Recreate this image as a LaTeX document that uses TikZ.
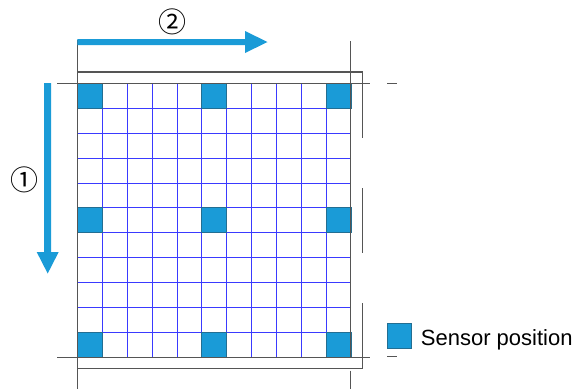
\documentclass[tikz,border=0pt]{standalone}
\usepackage{fontspec}
\setmainfont{Liberation Sans}
\newfontfamily\cjkfont{Noto Sans CJK JP}
\definecolor{sensor}{HTML}{1A9BD7}
\definecolor{sensorborder}{HTML}{236E92}
\definecolor{gridblue}{HTML}{3A3AFF}
\definecolor{guide}{HTML}{555555}
\begin{document}
\begin{tikzpicture}[x=1pt,y=-1pt,
  guideline/.style={draw=guide,line width=1.1pt},
  gridline/.style={draw=gridblue,line width=0.9pt},
  sensorbox/.style={fill=sensor,draw=sensorborder,line width=0.8pt},
  bigarrow/.style={fill=sensor},
  circnum/.style={font=\cjkfont\fontsize{28}{28}\selectfont, inner sep=0pt}]
\useasboundingbox (0,0) rectangle (577,389);
\def\cs{24.87}
% grid interior lines
\foreach \i in {1,...,10} {
  \draw[gridline] (77.5+\i*\cs,83.5) -- (77.5+\i*\cs,357.1);
  \draw[gridline] (77.5,83.5+\i*\cs) -- (351.1,83.5+\i*\cs);
}
% sensors
\foreach \c in {0,5,10} {
  \foreach \r in {0,5,10} {
    \draw[sensorbox] (77.5+\c*\cs,83.5+\r*\cs) rectangle ++(\cs,\cs);
  }
}
% guide lines
\draw[guideline] (77.3,40) -- (77.3,389);
\draw[guideline] (350.8,41) -- (350.8,357.3);
\draw[guideline] (350.8,370.5) -- (350.8,389);
\draw[guideline] (57,83.4) -- (370,83.4);
\draw[guideline] (387,83.4) -- (397,83.4);
\draw[guideline] (57,357.2) -- (370,357.2);
\draw[guideline] (387,356.8) -- (397,356.8);
\draw[guideline] (77.3,72) -- (362.7,72) -- (362.7,138);
\draw[guideline] (362.7,188) -- (362.7,253);
\draw[guideline] (362.7,303) -- (362.7,368.3) -- (77.3,368.3);
% arrows
\fill[bigarrow] (77.3,39) -- (245,39) -- (245,31) -- (267.5,42) -- (245,53) -- (245,45) -- (77.3,45) -- cycle;
\fill[bigarrow] (44.2,83) -- (51.2,83) -- (51.2,252) -- (58.7,252) -- (47.7,273.5) -- (36.7,252) -- (44.2,252) -- cycle;
% labels
\node[circnum] (n2) at (172,21.5) {②};
\node[circnum] (n1) at (24,180) {①};
% legend
\node[sensorbox, minimum width=24pt, minimum height=25pt, inner sep=0pt] (leg) at (399.5,335.5) {};
\node[anchor=base west, font=\fontsize{22}{22}\selectfont, inner sep=0pt] (legtext) at (420.7,345) {Sensor position};
\end{tikzpicture}
\end{document}
